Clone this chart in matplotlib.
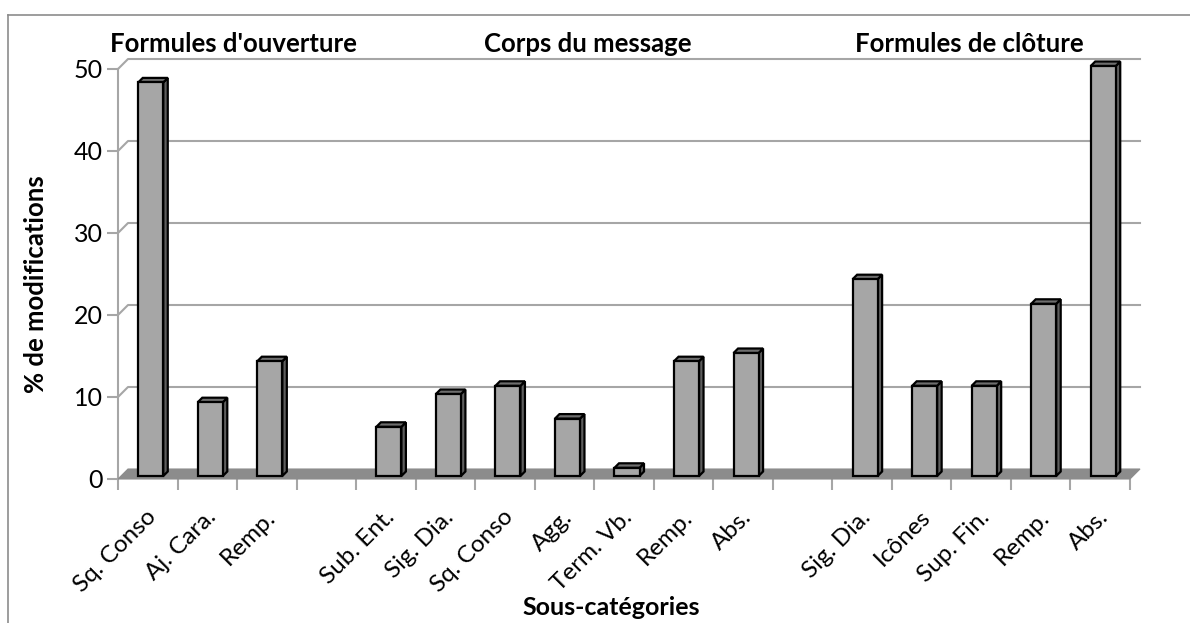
import matplotlib
matplotlib.use("Agg")
import matplotlib.pyplot as plt
from matplotlib.patches import Polygon, Rectangle
from matplotlib.transforms import ScaledTranslation

# ---------------- data ----------------
categories = ["Sq. Conso", "Aj. Cara.", "Remp.", "",
              "Sub. Ent.", "Sig. Dia.", "Sq. Conso", "Agg.", "Term. Vb.", "Remp.", "Abs.", "",
              "Sig. Dia.", "Icônes", "Sup. Fin.", "Remp.", "Abs."]
values = [48, 9, 14, None,
          6, 10, 11, 7, 1, 14, 15, None,
          24, 11, 11, 21, 50]
group_titles = ["Formules d'ouverture", "Corps du message", "Formules de clôture"]
y_ticks = [0, 10, 20, 30, 40, 50]
y_label = "% de modifications"
x_label = "Sous-catégories"

# ---------------- style ----------------
FONT = ["Lato", "DejaVu Sans"]
plt.rcParams['font.family'] = FONT
W, H = 1190, 623
fig = plt.figure(figsize=(W / 100, H / 100), dpi=100)

n = len(categories)
px_left, px_right = 118, 1130
px_y0, px_y50 = 479, 69
ax = fig.add_axes([px_left / W, (H - px_y0) / H, (px_right - px_left) / W, (px_y0 - px_y50) / H])
ax.set_xlim(-0.5, n - 0.5)
ax.set_ylim(0, 50)
for s in ax.spines.values():
    s.set_visible(False)

# depth offsets in data units (~10 px)
DX = 10 / ((px_right - px_left) / n)
DY = 10 / ((px_y0 - px_y50) / 50)

GRID = "#A6A6A6"
xl, xr = -0.5, n - 0.5

# front y-axis line
ax.plot([xl, xl], [0, 50], color=GRID, lw=1.5, zorder=1, clip_on=False)
# back wall gridlines with diagonal connectors
for v in y_ticks[1:]:
    ax.plot([xl, xl + DX, xr + DX], [v, v + DY, v + DY], color=GRID, lw=1.5,
            zorder=1, clip_on=False)

# floor
floor = Polygon([(xl, 0), (xr, 0), (xr + DX, DY), (xl + DX, DY)], closed=True,
                facecolor="#8C8C8C", edgecolor="#8C8C8C", lw=0.8, zorder=2, clip_on=False)
ax.add_patch(floor)

# bars
bw = 0.42
f0 = 0.3
fd = 0.45
for i, v in enumerate(values):
    if v is None:
        continue
    x0 = i - bw / 2 + f0 * DX
    y0 = f0 * DY
    ddx, ddy = fd * DX, fd * DY
    front = Rectangle((x0, y0), bw, v, facecolor="#A6A6A6", edgecolor="black",
                      lw=1.6, zorder=5 + i, clip_on=False, joinstyle="miter")
    side = Polygon([(x0 + bw, y0), (x0 + bw + ddx, y0 + ddy), (x0 + bw + ddx, y0 + v + ddy),
                    (x0 + bw, y0 + v)], closed=True, facecolor="#5E5E5E", edgecolor="black",
                   lw=1.6, zorder=5 + i, clip_on=False, joinstyle="miter")
    top = Polygon([(x0, y0 + v), (x0 + bw, y0 + v), (x0 + bw + ddx, y0 + v + ddy),
                   (x0 + ddx, y0 + v + ddy)], closed=True, facecolor="#6E6E6E", edgecolor="black",
                  lw=1.6, zorder=5 + i, clip_on=False, joinstyle="miter")
    ax.add_patch(side)
    ax.add_patch(top)
    ax.add_patch(front)

# y ticks
ax.set_yticks(y_ticks)
ax.set_yticklabels([str(t) for t in y_ticks], fontsize=18, color="black")
ax.tick_params(axis="y", length=8, width=1.5, color=GRID, pad=3)

# x ticks: boundaries as minor ticks, labels at centers
ax.set_xticks([b - 0.5 for b in range(n + 1)], minor=True)
ax.tick_params(axis="x", which="minor", length=8, width=1.5, color=GRID)
ax.set_xticks(range(n))
ax.set_xticklabels(categories, rotation=45, ha="right", va="center",
                   rotation_mode="anchor", fontsize=17.5)
ax.tick_params(axis="x", which="major", length=0, pad=25)
for lab in ax.get_xticklabels():
    lab.set_transform(lab.get_transform() + ScaledTranslation(5 / 100, 0, fig.dpi_scale_trans))

# group titles
title_x = [233, 588, 969]
for t, x in zip(group_titles, title_x):
    fig.text(x / W, 1 - 52 / H, t, ha="center", va="baseline", fontsize=18.5, fontweight="bold")

# axis labels
fig.text(36 / W, 1 - 284 / H, y_label, rotation=90, ha="center", va="center",
         fontsize=18.5, fontweight="bold")
fig.text(611 / W, 1 - 615 / H, x_label, ha="center", va="baseline",
         fontsize=18, fontweight="bold")

# outer chart border (top and left visible)
fig.add_artist(plt.Line2D([8 / W, 8 / W], [0, 1 - 15 / H], color="#8C8C8C", lw=1.2))
fig.add_artist(plt.Line2D([8 / W, 1], [1 - 15 / H, 1 - 15 / H], color="#8C8C8C", lw=1.2))

fig.savefig("out.png", dpi=100)
